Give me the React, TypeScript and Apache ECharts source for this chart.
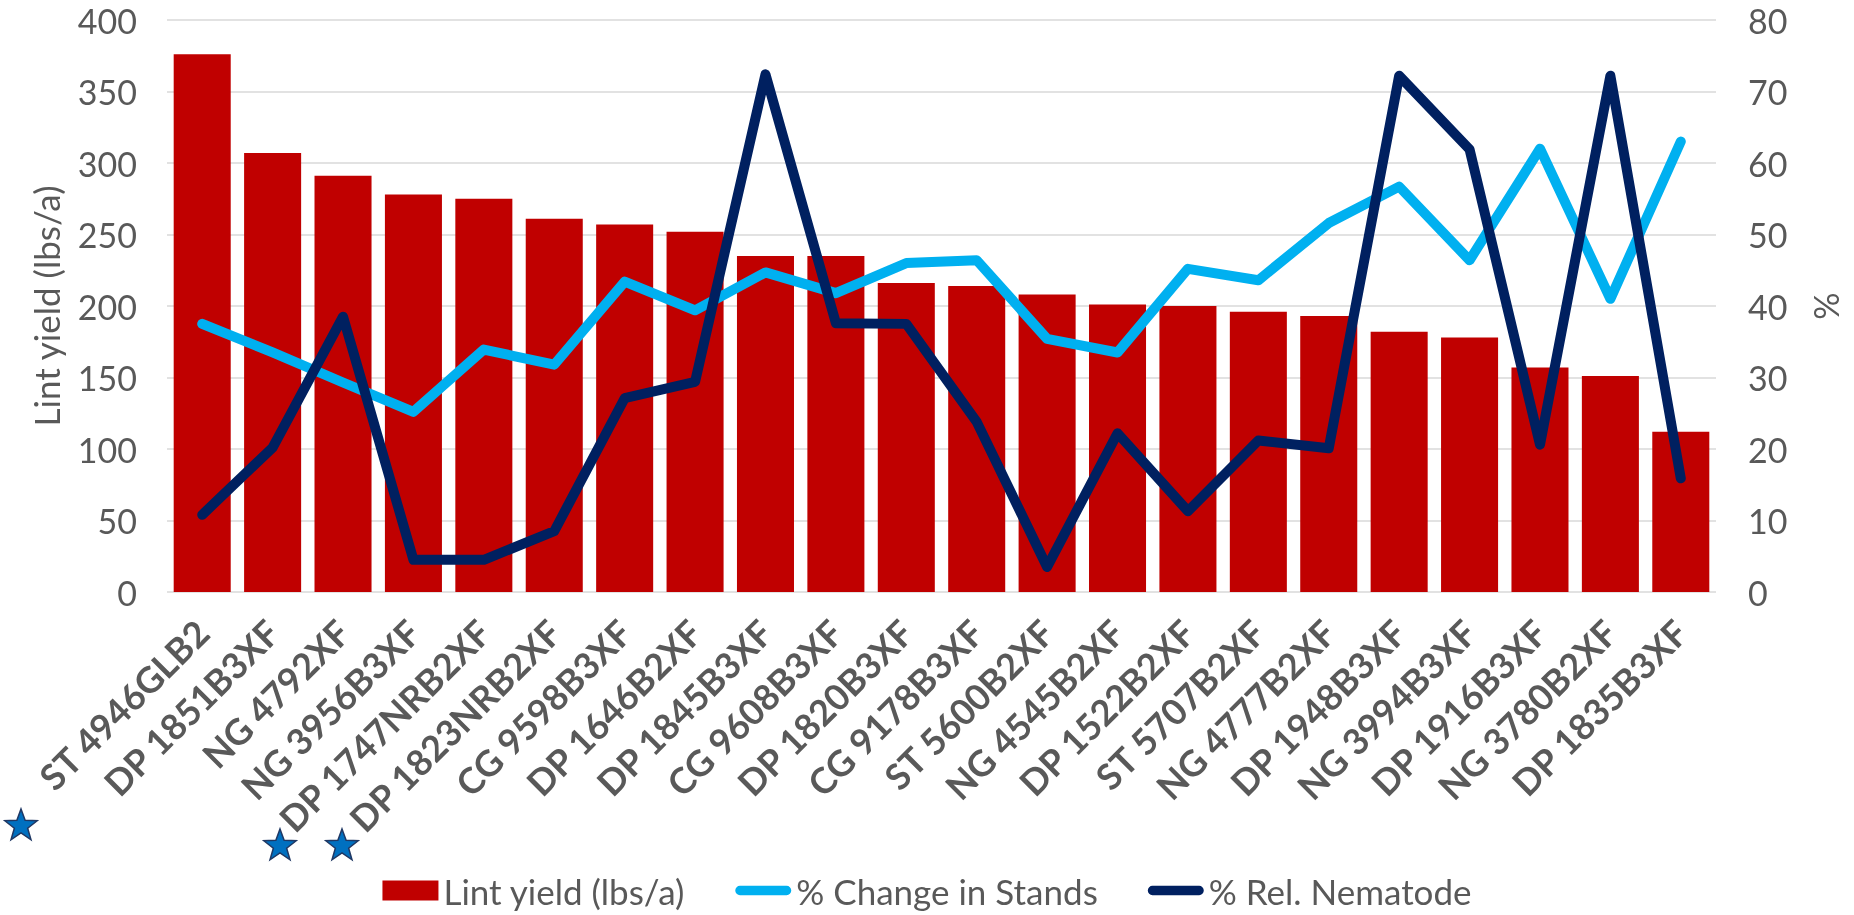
import React, { useEffect, useRef } from "react";
import * as echarts from "echarts";

const categories = [
  "ST 4946GLB2", "DP 1851B3XF", "NG 4792XF", "NG 3956B3XF", "DP 1747NRB2XF",
  "DP 1823NRB2XF", "CG 9598B3XF", "DP 1646B2XF", "DP 1845B3XF", "CG 9608B3XF",
  "DP 1820B3XF", "CG 9178B3XF", "ST 5600B2XF", "NG 4545B2XF", "DP 1522B2XF",
  "ST 5707B2XF", "NG 4777B2XF", "DP 1948B3XF", "NG 3994B3XF", "DP 1916B3XF",
  "NG 3780B2XF", "DP 1835B3XF",
];

const lintYield = [376, 307, 291, 278, 275, 261, 257, 252, 235, 235, 216, 214, 208, 201, 200, 196, 193, 182, 178, 157, 151, 112];

const changeInStands = [37.5, 33.5, 29.3, 25.2, 33.9, 31.8, 43.4, 39.4, 44.7, 41.8, 46.0, 46.4, 35.4, 33.5, 45.2, 43.6, 51.6, 56.7, 46.4, 62.0, 41.0, 63.0];

const relNematode = [10.8, 20.2, 38.5, 4.5, 4.5, 8.5, 27.1, 29.4, 72.4, 37.6, 37.5, 23.8, 3.5, 22.2, 11.3, 21.2, 20.1, 72.2, 61.9, 20.6, 72.2, 15.9];

const leftTicks = { min: 0, max: 400, interval: 50 };
const rightTicks = { min: 0, max: 80, interval: 10 };

const TEXT = "#595959";
const FONT = "Lato";
const LINE_ICON = "path://M5,0 L55,0 A5,5 0 0 1 55,10 L5,10 A5,5 0 0 1 5,0 Z";

function starPoints(cx: number, cy: number, R: number, r: number) {
  const pts: number[][] = [];
  for (let i = 0; i < 10; i++) {
    const rad = i % 2 === 0 ? R : r;
    const a = -Math.PI / 2 + (i * Math.PI) / 5;
    pts.push([cx + rad * Math.cos(a), cy + rad * Math.sin(a)]);
  }
  return pts;
}

const starCenters = [
  [21, 826],
  [280, 846],
  [342, 846],
];

export default function App() {
  const ref = useRef<HTMLDivElement>(null);
  useEffect(() => {
    if (!ref.current) return;
    const chart = echarts.init(ref.current, null, { renderer: "svg" });
    chart.setOption({
      animation: false,
      textStyle: { fontFamily: FONT },
      grid: { left: 167, right: 138, top: 20, bottom: 323, containLabel: false },
      legend: {
        top: 868,
        left: "center",
        itemGap: 50,
        itemWidth: 56,
        itemHeight: 20,
        textStyle: { fontSize: 35, color: TEXT, fontFamily: FONT },
        data: [
          { name: "Lint yield (lbs/a)", icon: "rect" },
          { name: "% Change in Stands", icon: LINE_ICON },
          { name: "% Rel. Nematode", icon: LINE_ICON },
        ],
      },
      xAxis: {
        type: "category",
        data: categories,
        axisLine: { show: false },
        axisTick: { show: false },
        axisLabel: {
          interval: 0,
          rotate: 45,
          fontSize: 36,
          fontWeight: "bold",
          color: TEXT,
          fontFamily: FONT,
          margin: 34,
        },
      },
      yAxis: [
        {
          type: "value",
          min: leftTicks.min,
          max: leftTicks.max,
          interval: leftTicks.interval,
          name: "Lint yield (lbs/a)",
          nameLocation: "middle",
          nameGap: 104,
          nameTextStyle: { fontSize: 35, color: TEXT, fontFamily: FONT },
          axisLine: { show: false },
          axisTick: { show: false },
          axisLabel: { fontSize: 34, color: TEXT, margin: 30, fontFamily: FONT },
          splitLine: { lineStyle: { color: "#D9D9D9", width: 1.5 } },
        },
        {
          type: "value",
          min: rightTicks.min,
          max: rightTicks.max,
          interval: rightTicks.interval,
          name: "%",
          nameLocation: "middle",
          nameRotate: 90,
          nameGap: 92,
          nameTextStyle: { fontSize: 34, color: TEXT, fontFamily: FONT },
          axisLine: { show: false },
          axisTick: { show: false },
          axisLabel: { fontSize: 34, color: TEXT, margin: 32, fontFamily: FONT },
          splitLine: { show: false },
        },
      ],
      series: [
        {
          name: "Lint yield (lbs/a)",
          type: "bar",
          data: lintYield,
          barCategoryGap: "19%",
          itemStyle: { color: "#C00000" },
        },
        {
          name: "% Change in Stands",
          type: "line",
          yAxisIndex: 1,
          data: changeInStands,
          symbol: "none",
          lineStyle: { color: "#00B0F0", width: 10, cap: "round", join: "round" },
          itemStyle: { color: "#00B0F0" },
        },
        {
          name: "% Rel. Nematode",
          type: "line",
          yAxisIndex: 1,
          data: relNematode,
          symbol: "none",
          lineStyle: { color: "#002060", width: 10, cap: "round", join: "round" },
          itemStyle: { color: "#002060" },
        },
      ],
      graphic: starCenters.map(([cx, cy]) => ({
        type: "polygon",
        shape: { points: starPoints(cx, cy, 17, 7) },
        style: { fill: "#0070C0", stroke: "#1F3864", lineWidth: 1.5 },
      })),
    });
    return () => chart.dispose();
  }, []);
  return (
    <div
      ref={ref}
      style={{ position: "fixed", left: 0, top: 0, width: 1854, height: 915 }}
    />
  );
}
